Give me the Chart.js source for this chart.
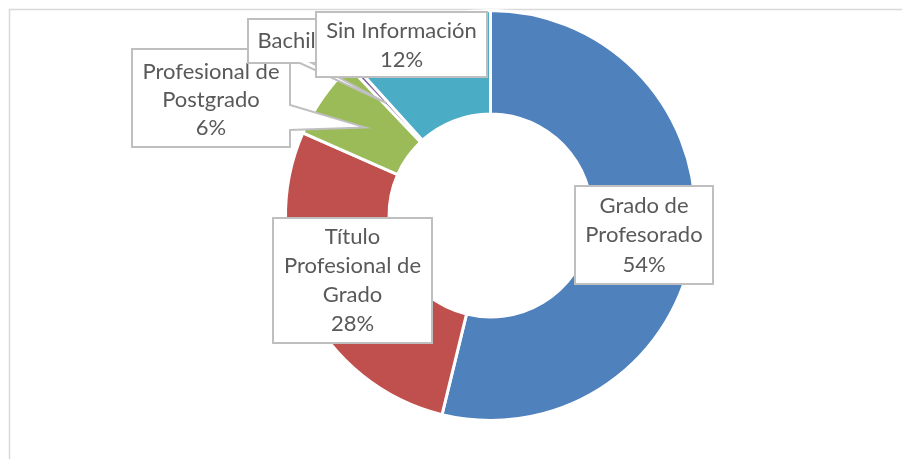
<!DOCTYPE html>
<html>
<head>
<meta charset="utf-8">
<script src="https://cdn.jsdelivr.net/npm/chart.js@4.4.1/dist/chart.umd.min.js"></script>
<style>
  html, body { margin: 0; padding: 0; background: #fff; }
  canvas { display: block; }
</style>
</head>
<body>
<canvas id="grafico" width="902" height="459"></canvas>
<script>
// Datos del gráfico (porcentajes)
const categorias = ['Grado de Profesorado', 'Título Profesional de Grado', 'Profesional de Postgrado', 'Bachiller', 'Sin Información'];
const valores = [53.8, 27.8, 6.3, 0.4, 11.7];
const colores = ['#4F81BD', '#C0504D', '#9BBB59', '#8064A2', '#4BACC6'];
// Texto de cada etiqueta, por líneas (el porcentaje se añade aparte)
const lineasEtiqueta = [
	['Grado de', 'Profesorado'],
	['Título', 'Profesional de', 'Grado'],
	['Profesional de', 'Postgrado'],
	['Bachiller'],
	['Sin Información']
];

// Cajas de las etiquetas (posición de cada llamada)
const cajas = [
	{ x: 575, y: 186, w: 138, h: 98, alto: 29.5 },
	{ x: 273, y: 218, w: 159, h: 125, alto: 29 },
	{ x: 132, y: 49, w: 158, h: 98, alto: 28, dy: 2, puntero: { lado: 'derecha', desde: 105, hasta: 130 } },
	{ x: 248, y: 19, w: 138, h: 44, alto: 29, puntero: { lado: 'abajo', desde: 300, hasta: 312 }, unaLinea: true },
	{ x: 316, y: 12, w: 171, h: 65, alto: 29, dy: 1 }
];

const total = valores.reduce((a, b) => a + b, 0);

// Marco gris del área del gráfico
const marco = {
	id: 'marco',
	beforeDraw(chart) {
		const c = chart.ctx;
		c.save();
		c.strokeStyle = '#d9d9d9';
		c.lineWidth = 1.5;
		c.strokeRect(9.5, 9.5, 1000, 1000);
		c.restore();
	}
};

// Etiquetas tipo llamada (como en Excel)
const etiquetas = {
	id: 'etiquetas',
	afterDatasetsDraw(chart) {
		const c = chart.ctx;
		const arcos = chart.getDatasetMeta(0).data;
		c.save();
		cajas.forEach(function(caja, i) {
			const pct = Math.round(valores[i] / total * 100) + '%';
			let lineas = lineasEtiqueta[i].slice();
			if (caja.unaLinea) {
				lineas = [lineas.join(' ') + ' ' + pct];
			} else {
				lineas.push(pct);
			}
			const { x, y, w, h } = caja;
			const punta = arcos[i].tooltipPosition();

			c.beginPath();
			c.moveTo(x, y);
			c.lineTo(x + w, y);
			if (caja.puntero && caja.puntero.lado === 'derecha') {
				c.lineTo(x + w, caja.puntero.desde);
				c.lineTo(punta.x, punta.y);
				c.lineTo(x + w, caja.puntero.hasta);
			}
			c.lineTo(x + w, y + h);
			if (caja.puntero && caja.puntero.lado === 'abajo') {
				c.lineTo(caja.puntero.hasta, y + h);
				c.lineTo(punta.x, punta.y);
				c.lineTo(caja.puntero.desde, y + h);
			}
			c.lineTo(x, y + h);
			c.closePath();
			c.fillStyle = '#ffffff';
			c.fill();
			c.strokeStyle = '#bfbfbf';
			c.lineWidth = 2;
			c.stroke();

			c.fillStyle = '#595959';
			c.font = '22px Lato';
			c.textAlign = 'center';
			c.textBaseline = 'middle';
			const alto = caja.alto;
			const cy = y + h / 2 + (caja.dy || 0) - (lineas.length - 1) * alto / 2;
			lineas.forEach(function(t, k) {
				c.fillText(t, x + w / 2, cy + k * alto);
			});
		});
		c.restore();
	}
};

const ctx = document.getElementById('grafico');
new Chart(ctx, {
	type: 'doughnut',
	data: {
		labels: categorias,
		datasets: [{
			data: valores,
			backgroundColor: colores,
			borderColor: '#ffffff',
			borderWidth: 3
		}]
	},
	options: {
		responsive: false,
		animation: false,
		cutout: '49.5%',
		layout: {
			padding: { left: 284, right: 205, top: 9, bottom: 37 }
		},
		plugins: {
			legend: { display: false },
			tooltip: { enabled: false }
		}
	},
	plugins: [marco, etiquetas]
});
</script>
</body>
</html>
